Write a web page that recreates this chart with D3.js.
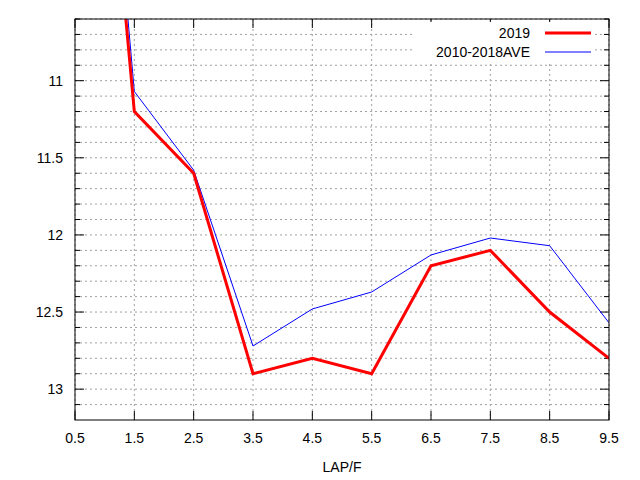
<!DOCTYPE html>
<html><head><meta charset="utf-8">
<script src="https://cdn.jsdelivr.net/npm/d3@7"></script>
<style>body{margin:0;background:#fff}text{font-family:"Liberation Sans",Arial,sans-serif;font-size:14px}</style>
</head><body><div id="chart"></div>
<script>
const laps = [0.5, 1.5, 2.5, 3.5, 4.5, 5.5, 6.5, 7.5, 8.5, 9.5];
const y2019 = [7.0, 11.2, 11.6, 12.9, 12.8, 12.9, 12.2, 12.1, 12.5, 12.8];
const yAve = [6.7, 11.07, 11.58, 12.72, 12.48, 12.37, 12.13, 12.02, 12.07, 12.57];
const xTicks = [0.5, 1.5, 2.5, 3.5, 4.5, 5.5, 6.5, 7.5, 8.5, 9.5];
const yTicks = [11, 11.5, 12, 12.5, 13];

const width = 640, height = 480;
const pLeft = 75, pRight = 609, pTop = 19, pBottom = 420;

const svg = d3.select('#chart').append('svg').attr('width', width).attr('height', height);
const x = d3.scaleLinear().domain([0.5, 9.5]).range([pLeft, pRight]);
const y = d3.scaleLinear().domain([10.6, 13.2]).range([pTop, pBottom]);

const minor = d3.range(106, 132).map(v => v / 10);

// grid
svg.append('g').selectAll('line').data(minor).enter().append('line')
  .attr('x1', pLeft).attr('x2', pRight).attr('y1', d => y(d)).attr('y2', d => y(d))
  .attr('stroke', '#a0a0a0').attr('stroke-dasharray', '2,3');
svg.append('g').selectAll('line').data(xTicks).enter().append('line')
  .attr('y1', pTop).attr('y2', pBottom).attr('x1', d => x(d)).attr('x2', d => x(d))
  .attr('stroke', '#a0a0a0').attr('stroke-dasharray', '2,3');

// ticks
const tk = svg.append('g').attr('stroke', '#000');
minor.forEach(d => {
  const len = yTicks.some(t => Math.abs(t - d) < 1e-6) ? 9 : 5;
  tk.append('line').attr('x1', pLeft).attr('x2', pLeft + len).attr('y1', y(d)).attr('y2', y(d));
  tk.append('line').attr('x1', pRight).attr('x2', pRight - len).attr('y1', y(d)).attr('y2', y(d));
});
xTicks.forEach(d => {
  tk.append('line').attr('x1', x(d)).attr('x2', x(d)).attr('y1', pBottom).attr('y2', pBottom - 9);
  tk.append('line').attr('x1', x(d)).attr('x2', x(d)).attr('y1', pTop).attr('y2', pTop + 9);
});

svg.append('g').selectAll('text').data(yTicks).enter().append('text')
  .attr('x', pLeft - 12).attr('y', d => y(d) + 5).attr('text-anchor', 'end').text(d => d);
svg.append('g').selectAll('text').data(xTicks).enter().append('text')
  .attr('x', d => x(d)).attr('y', pBottom + 23).attr('text-anchor', 'middle').text(d => d.toFixed(1));
svg.append('text').attr('x', (pLeft + pRight) / 2).attr('y', 472).attr('text-anchor', 'middle').text('LAP/F');

// lines
svg.append('clipPath').attr('id', 'clip').append('rect')
  .attr('x', pLeft).attr('y', pTop).attr('width', pRight - pLeft).attr('height', pBottom - pTop);
const line = d3.line().x((d, i) => x(laps[i])).y(d => y(d));
svg.append('path').datum(yAve).attr('d', line).attr('fill', 'none')
  .attr('stroke', '#0000ff').attr('stroke-width', 1).attr('clip-path', 'url(#clip)');
svg.append('path').datum(y2019).attr('d', line).attr('fill', 'none')
  .attr('stroke', '#ff0000').attr('stroke-width', 3).attr('clip-path', 'url(#clip)');

// legend
svg.append('rect').attr('x', 415).attr('y', 22).attr('width', 180).attr('height', 40).attr('fill', '#fff');
const leg = [['2019', '#ff0000', 3, 33], ['2010-2018AVE', '#0000ff', 1, 52]];
leg.forEach(([t, c, w, ly]) => {
  svg.append('text').attr('x', 530).attr('y', ly + 5).attr('text-anchor', 'end').text(t);
  svg.append('line').attr('x1', 545).attr('x2', 591).attr('y1', ly).attr('y2', ly)
    .attr('stroke', c).attr('stroke-width', w);
});

svg.append('rect').attr('x', pLeft).attr('y', pTop).attr('width', pRight - pLeft).attr('height', pBottom - pTop)
  .attr('fill', 'none').attr('stroke', '#000');
</script></body></html>
